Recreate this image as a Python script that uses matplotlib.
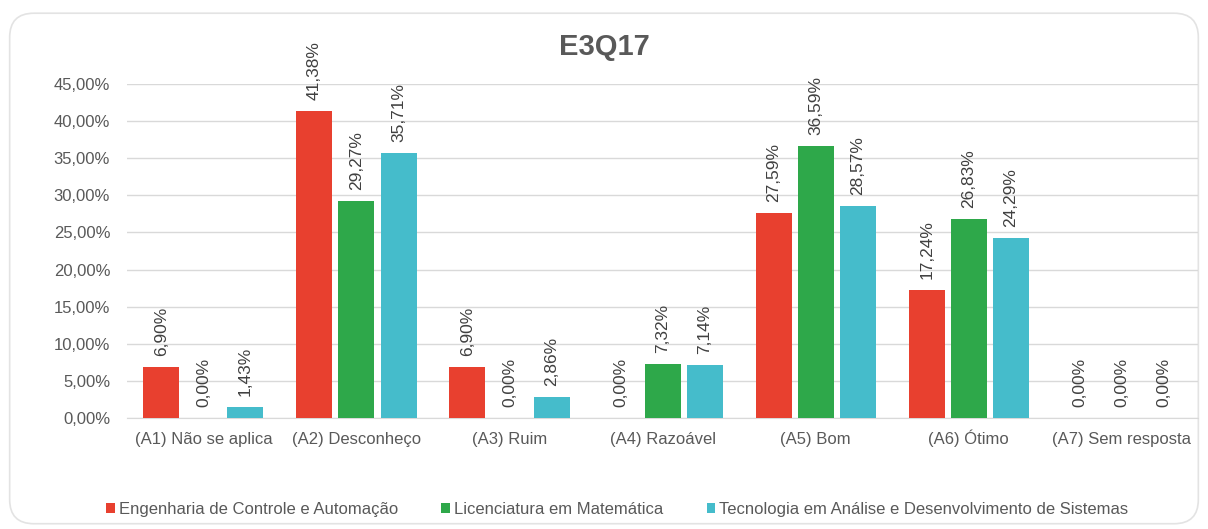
import numpy as np
import matplotlib.pyplot as plt
from matplotlib.patches import FancyBboxPatch
from matplotlib.ticker import FuncFormatter

plt.rcParams['font.family'] = ['Liberation Sans', 'DejaVu Sans']

categorias = ['(A1) Não se aplica', '(A2) Desconheço', '(A3) Ruim', '(A4) Razoável',
              '(A5) Bom', '(A6) Ótimo', '(A7) Sem resposta']
cursos = ['Engenharia de Controle e Automação', 'Licenciatura em Matemática',
          'Tecnologia em Análise e Desenvolvimento de Sistemas']
eca = [6.90, 41.38, 6.90, 0.00, 27.59, 17.24, 0.00]
lm = [0.00, 29.27, 0.00, 7.32, 36.59, 26.83, 0.00]
tads = [1.43, 35.71, 2.86, 7.14, 28.57, 24.29, 0.00]
cores = ['#E8402F', '#2EA84A', '#45BCCB']

def pct(v):
    return f'{v:.2f}'.replace('.', ',') + '%'

fig = plt.figure(figsize=(12.08, 5.29), dpi=100)
moldura = FancyBboxPatch((0.008, 0.01), 0.984, 0.965, boxstyle='round,pad=0,rounding_size=0.02',
                         transform=fig.transFigure, facecolor='white', edgecolor='#E3E3E3',
                         linewidth=1.2, mutation_aspect=1208 / 529, zorder=-5)
fig.patches.append(moldura)

ax = fig.add_axes([0.105, 0.21, 0.887, 0.631])
ax.set_facecolor('none')
ax.set_zorder(2)
x = np.arange(len(categorias))
largura = 0.235
passo = 0.275
for i, (serie, cor, nome) in enumerate(zip([eca, lm, tads], cores, cursos)):
    pos = x + (i - 1) * passo
    ax.bar(pos, serie, width=largura, color=cor, label=nome, zorder=3)
    for p, v in zip(pos, serie):
        ax.annotate(pct(v), (p, v), xytext=(0, 8), textcoords='offset points',
                    rotation=90, ha='center', va='bottom', fontsize=12.5, color='#404040')

ax.set_xlim(-0.5, len(categorias) - 0.5)
ax.set_ylim(0, 45)
ax.set_yticks(np.arange(0, 46, 5))
ax.yaxis.set_major_formatter(FuncFormatter(lambda v, _: pct(v)))
ax.set_xticks(x)
ax.set_xticklabels(categorias, va='baseline')
ax.tick_params(axis='both', length=0, labelsize=12, colors='#595959')
ax.tick_params(axis='x', pad=19)
ax.tick_params(axis='y', pad=12)
ax.grid(axis='y', color='#D9D9D9', linewidth=1, zorder=0)
for s in ['top', 'right', 'left']:
    ax.spines[s].set_visible(False)
ax.spines['bottom'].set_color('#D9D9D9')

fig.text(0.5, 0.912, 'E3Q17', ha='center', va='center', fontsize=21, fontweight='bold',
         color='#595959')
fig.legend(loc='center', bbox_to_anchor=(0.511, 0.037), ncol=3, frameon=False,
           fontsize=12, handlelength=0.5, handleheight=0.5, handletextpad=0.25,
           columnspacing=2.6, labelcolor='#595959')

plt.savefig('out.png', dpi=100)
